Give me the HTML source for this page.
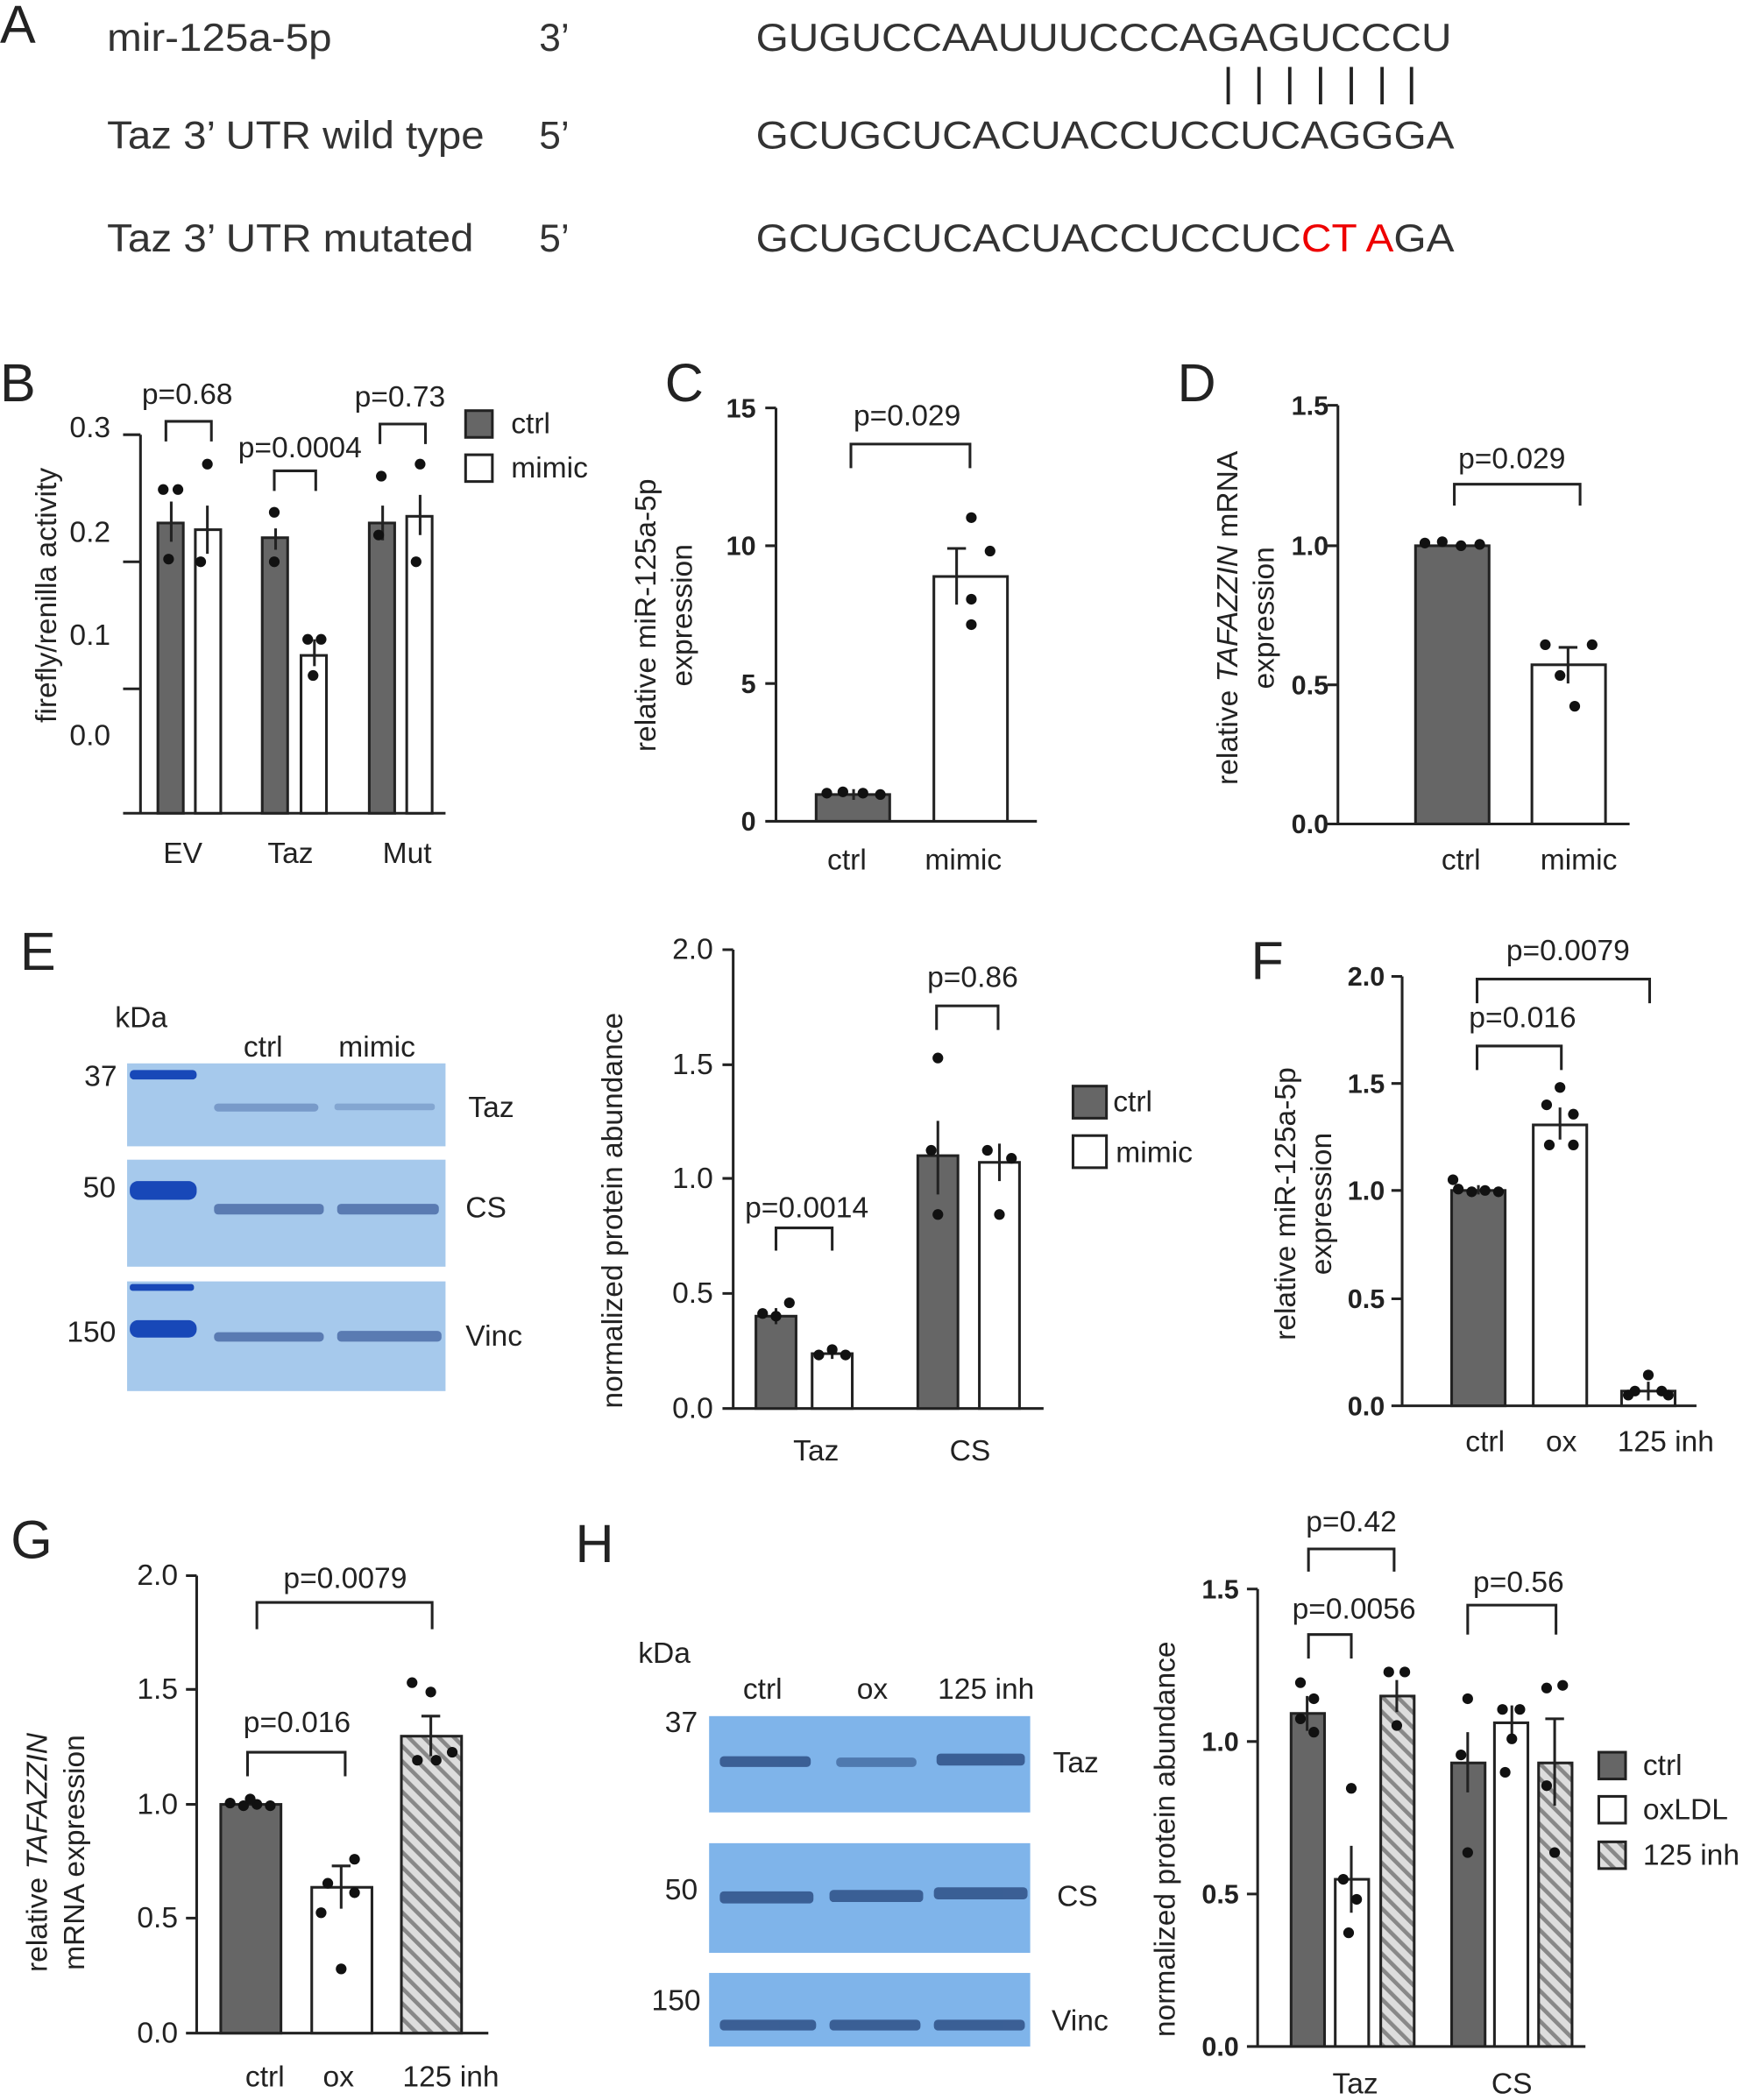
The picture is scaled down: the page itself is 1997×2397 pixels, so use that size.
<!DOCTYPE html>
<html><head><meta charset="utf-8"><style>
html,body{margin:0;padding:0;background:#fff}
svg{display:block}
text{font-family:"Liberation Sans",Arial,sans-serif;fill:#222}
.L{font-size:40px}
.t{font-size:22px}
.k{font-size:20px;font-weight:bold}
.s{font-size:29px;fill:#333}
</style></head><body>
<svg width="1997" height="2397" viewBox="0 0 1308 1570" xmlns="http://www.w3.org/2000/svg">
<defs>
<pattern id="h" width="8" height="8" patternUnits="userSpaceOnUse" patternTransform="rotate(-45)">
<rect width="8" height="8" fill="#ddd"/><rect width="3" height="8" fill="#888"/></pattern>
</defs>
<g stroke="#222" stroke-width="2.5" fill="none">
<path d="M918 50v28M941 50v28M964 50v28M987 50v28M1010 50v28M1033 50v28M1055 50v28"/>
</g>
<text class="L" x="0" y="32">A</text>
<text class="s" x="80" y="38" textLength="168" lengthAdjust="spacingAndGlyphs">mir-125a-5p</text><text class="s" x="403" y="38">3’</text>
<text class="s" x="565" y="38" textLength="520" lengthAdjust="spacingAndGlyphs">GUGUCCAAUUUCCCAGAGUCCCU</text>
<text class="s" x="80" y="111" textLength="282" lengthAdjust="spacingAndGlyphs">Taz 3’ UTR wild type</text><text class="s" x="403" y="111">5’</text>
<text class="s" x="565" y="111" textLength="522" lengthAdjust="spacingAndGlyphs">GCUGCUCACUACCUCCUCAGGGA</text>
<text class="s" x="80" y="188" textLength="274" lengthAdjust="spacingAndGlyphs">Taz 3’ UTR mutated</text><text class="s" x="403" y="188">5’</text>
<text class="s" x="565" y="188" textLength="522" lengthAdjust="spacingAndGlyphs">GCUGCUCACUACCUCCUC<tspan style="fill:#e00">CT A</tspan>GA</text>

<!-- B -->
<text class="L" x="0" y="300">B</text>
<g stroke="#222" stroke-width="2" fill="none">
<path d="M105 325V608H333M92 325h13M92 420h13M92 515h13M92 608h13"/>
<path d="M124 330v-15h34v15M205 367v-15h31v15M284 332v-15h34v15"/>
<rect x="118" y="391" width="19" height="217" fill="#666"/>
<rect x="146" y="396" width="19" height="212" fill="#fff"/>
<rect x="196" y="402" width="19" height="206" fill="#666"/>
<rect x="225" y="490" width="19" height="118" fill="#fff"/>
<rect x="276" y="391" width="19" height="217" fill="#666"/>
<rect x="304" y="386" width="19" height="222" fill="#fff"/>
<path d="M128 375v30M155 378v36M206 395v16M235 478v20M286 378v26M314 370v30"/>
<rect x="348" y="307" width="20" height="20" fill="#666"/><rect x="348" y="340" width="20" height="20" fill="#fff"/>
</g>
<g fill="#111"><circle cx="122" cy="366" r="4"/><circle cx="133" cy="366" r="4"/><circle cx="126" cy="418" r="4"/><circle cx="155" cy="347" r="4"/><circle cx="150" cy="420" r="4"/><circle cx="205" cy="383" r="4"/><circle cx="205" cy="420" r="4"/><circle cx="230" cy="478" r="4"/><circle cx="240" cy="478" r="4"/><circle cx="234" cy="505" r="4"/><circle cx="285" cy="356" r="4"/><circle cx="283" cy="400" r="4"/><circle cx="314" cy="347" r="4"/><circle cx="311" cy="420" r="4"/></g>
<text class="t" x="52" y="327">0.3</text><text class="t" x="52" y="405">0.2</text><text class="t" x="52" y="482">0.1</text><text class="t" x="52" y="557">0.0</text>
<text class="t" x="106" y="302">p=0.68</text><text class="t" x="178" y="342">p=0.0004</text><text class="t" x="265" y="304">p=0.73</text>
<text class="t" x="382" y="324">ctrl</text><text class="t" x="382" y="357">mimic</text>
<text class="t" x="122" y="645">EV</text><text class="t" x="200" y="645">Taz</text><text class="t" x="286" y="645">Mut</text>
<text class="t" transform="translate(42 445) rotate(-90)" text-anchor="middle">firefly/renilla activity</text>

<!-- C -->
<text class="L" x="497" y="300">C</text>
<g stroke="#222" stroke-width="2" fill="none">
<path d="M580 305V614H775M572 305h8M572 408h8M572 511h8M572 614h8"/>
<path d="M636 350v-18h89v18"/>
<rect x="610" y="594" width="55" height="20" fill="#666"/>
<rect x="698" y="431" width="55" height="183" fill="#fff"/>
<path d="M638 590v8M715 410v42M708 410h14"/>
</g>
<g fill="#111"><circle cx="618" cy="593" r="4"/><circle cx="630" cy="592" r="4"/><circle cx="645" cy="593" r="4"/><circle cx="658" cy="594" r="4"/><circle cx="726" cy="387" r="4"/><circle cx="740" cy="412" r="4"/><circle cx="726" cy="448" r="4"/><circle cx="726" cy="467" r="4"/></g>
<text class="k" x="565" y="312" text-anchor="end">15</text><text class="k" x="565" y="415" text-anchor="end">10</text><text class="k" x="565" y="518" text-anchor="end">5</text><text class="k" x="565" y="621" text-anchor="end">0</text>
<text class="t" x="678" y="318" text-anchor="middle">p=0.029</text>
<text class="t" x="633" y="650" text-anchor="middle">ctrl</text><text class="t" x="720" y="650" text-anchor="middle">mimic</text>
<text class="t" transform="translate(490 460) rotate(-90)" text-anchor="middle">relative miR-125a-5p</text>
<text class="t" transform="translate(517 460) rotate(-90)" text-anchor="middle">expression</text>

<!-- D -->
<text class="L" x="880" y="300">D</text>
<g stroke="#222" stroke-width="2" fill="none">
<path d="M1000 303V616H1218M992 303h8M992 408h8M992 512h8M992 616h8"/>
<path d="M1087 378v-16h94v16"/>
<rect x="1058" y="408" width="55" height="208" fill="#666"/>
<rect x="1145" y="497" width="55" height="119" fill="#fff"/>
<path d="M1172 484v27M1165 484h14"/>
</g>
<g fill="#111"><circle cx="1065" cy="406" r="4"/><circle cx="1078" cy="405" r="4"/><circle cx="1092" cy="408" r="4"/><circle cx="1106" cy="407" r="4"/><circle cx="1155" cy="482" r="4"/><circle cx="1190" cy="482" r="4"/><circle cx="1166" cy="505" r="4"/><circle cx="1177" cy="528" r="4"/></g>
<text class="k" x="993" y="310" text-anchor="end">1.5</text><text class="k" x="993" y="415" text-anchor="end">1.0</text><text class="k" x="993" y="519" text-anchor="end">0.5</text><text class="k" x="993" y="623" text-anchor="end">0.0</text>
<text class="t" x="1130" y="350" text-anchor="middle">p=0.029</text>
<text class="t" x="1092" y="650" text-anchor="middle">ctrl</text><text class="t" x="1180" y="650" text-anchor="middle">mimic</text>
<text class="t" transform="translate(925 462) rotate(-90)" text-anchor="middle">relative <tspan font-style="italic">TAFAZZIN</tspan> mRNA</text>
<text class="t" transform="translate(952 462) rotate(-90)" text-anchor="middle">expression</text>

<!-- E -->
<text class="L" x="15" y="725">E</text>
<text class="t" x="86" y="768">kDa</text><text class="t" x="182" y="790">ctrl</text><text class="t" x="253" y="790">mimic</text>
<rect x="95" y="795" width="238" height="62" fill="#a6c9ec"/>
<rect x="95" y="867" width="238" height="80" fill="#a6c9ec"/>
<rect x="95" y="958" width="238" height="82" fill="#a6c9ec"/>
<g fill="#1848b8"><rect x="97" y="800" width="50" height="7" rx="3"/><rect x="97" y="883" width="50" height="14" rx="6"/><rect x="97" y="960" width="48" height="5" rx="2"/><rect x="97" y="987" width="50" height="13" rx="6"/></g>
<g fill="#3a5a9a" opacity="0.7"><rect x="160" y="825" width="78" height="6" rx="3" opacity="0.6"/><rect x="250" y="825" width="75" height="5" rx="2" opacity="0.45"/><rect x="160" y="900" width="82" height="8" rx="3"/><rect x="252" y="900" width="76" height="8" rx="3"/><rect x="160" y="996" width="82" height="7" rx="3"/><rect x="252" y="995" width="78" height="8" rx="3"/></g>
<text class="t" x="63" y="812">37</text><text class="t" x="62" y="895">50</text><text class="t" x="50" y="1003">150</text>
<text class="t" x="350" y="835">Taz</text><text class="t" x="348" y="910">CS</text><text class="t" x="348" y="1006">Vinc</text>
<g stroke="#222" stroke-width="2" fill="none">
<path d="M548 710V1053H780M540 710h8M540 796h8M540 881h8M540 967h8M540 1053h8"/>
<path d="M580 935v-17h42v17M700 770v-18h46v18"/>
<rect x="565" y="984" width="30" height="69" fill="#666"/>
<rect x="607" y="1012" width="30" height="41" fill="#fff"/>
<rect x="686" y="864" width="30" height="189" fill="#666"/>
<rect x="732" y="869" width="30" height="184" fill="#fff"/>
<path d="M580 978v12M622 1008v8M701 838v55M747 855v28"/>
<rect x="802" y="812" width="25" height="24" fill="#666"/><rect x="802" y="849" width="25" height="24" fill="#fff"/>
</g>
<g fill="#111"><circle cx="570" cy="982" r="4"/><circle cx="580" cy="984" r="4"/><circle cx="590" cy="974" r="4"/><circle cx="612" cy="1013" r="4"/><circle cx="622" cy="1009" r="4"/><circle cx="632" cy="1013" r="4"/><circle cx="701" cy="791" r="4"/><circle cx="696" cy="860" r="4"/><circle cx="701" cy="908" r="4"/><circle cx="738" cy="860" r="4"/><circle cx="756" cy="866" r="4"/><circle cx="747" cy="908" r="4"/></g>
<text class="t" x="533" y="717" text-anchor="end">2.0</text><text class="t" x="533" y="803" text-anchor="end">1.5</text><text class="t" x="533" y="888" text-anchor="end">1.0</text><text class="t" x="533" y="974" text-anchor="end">0.5</text><text class="t" x="533" y="1060" text-anchor="end">0.0</text>
<text class="t" x="603" y="910" text-anchor="middle">p=0.0014</text><text class="t" x="727" y="738" text-anchor="middle">p=0.86</text>
<text class="t" x="832" y="831">ctrl</text><text class="t" x="834" y="869">mimic</text>
<text class="t" x="610" y="1092" text-anchor="middle">Taz</text><text class="t" x="725" y="1092" text-anchor="middle">CS</text>
<text class="t" transform="translate(465 905) rotate(-90)" text-anchor="middle">normalized protein abundance</text>

<!-- F -->
<text class="L" x="935" y="732">F</text>
<g stroke="#222" stroke-width="2" fill="none">
<path d="M1048 730V1051H1268M1040 730h8M1040 810h8M1040 890h8M1040 971h8M1040 1051h8"/>
<path d="M1104 750v-18h129v18M1104 800v-18h63v18"/>
<rect x="1085" y="890" width="40" height="161" fill="#666"/>
<rect x="1146" y="841" width="40" height="210" fill="#fff"/>
<rect x="1212" y="1040" width="40" height="11" fill="#fff"/>
<path d="M1105 886v7M1166 828v24M1232 1033v14"/>
</g>
<g fill="#111"><circle cx="1090" cy="889" r="4"/><circle cx="1100" cy="891" r="4"/><circle cx="1110" cy="890" r="4"/><circle cx="1120" cy="891" r="4"/><circle cx="1086" cy="882" r="4"/><circle cx="1166" cy="813" r="4"/><circle cx="1156" cy="826" r="4"/><circle cx="1176" cy="833" r="4"/><circle cx="1158" cy="856" r="4"/><circle cx="1176" cy="856" r="4"/><circle cx="1232" cy="1028" r="4"/><circle cx="1222" cy="1040" r="4"/><circle cx="1242" cy="1040" r="4"/><circle cx="1217" cy="1043" r="4"/><circle cx="1247" cy="1043" r="4"/></g>
<text class="k" x="1035" y="737" text-anchor="end">2.0</text><text class="k" x="1035" y="817" text-anchor="end">1.5</text><text class="k" x="1035" y="897" text-anchor="end">1.0</text><text class="k" x="1035" y="978" text-anchor="end">0.5</text><text class="k" x="1035" y="1058" text-anchor="end">0.0</text>
<text class="t" x="1172" y="718" text-anchor="middle">p=0.0079</text><text class="t" x="1138" y="768" text-anchor="middle">p=0.016</text>
<text class="t" x="1110" y="1085" text-anchor="middle">ctrl</text><text class="t" x="1167" y="1085" text-anchor="middle">ox</text><text class="t" x="1245" y="1085" text-anchor="middle">125 inh</text>
<text class="t" transform="translate(968 900) rotate(-90)" text-anchor="middle">relative miR-125a-5p</text>
<text class="t" transform="translate(995 900) rotate(-90)" text-anchor="middle">expression</text>

<!-- G -->
<text class="L" x="8" y="1165">G</text>
<g stroke="#222" stroke-width="2" fill="none">
<path d="M147 1178V1520H365M139 1178h8M139 1263h8M139 1349h8M139 1434h8M139 1520h8"/>
<path d="M192 1218v-20h131v20M185 1328v-18h73v18"/>
<rect x="165" y="1349" width="45" height="171" fill="#666"/>
<rect x="233" y="1411" width="45" height="109" fill="#fff"/>
<rect x="300" y="1298" width="45" height="222" fill="url(#h)"/>
<path d="M255 1395v32M248 1395h14M322 1283v30M315 1283h14"/>
</g>
<g fill="#111"><circle cx="172" cy="1348" r="4"/><circle cx="182" cy="1350" r="4"/><circle cx="192" cy="1349" r="4"/><circle cx="202" cy="1350" r="4"/><circle cx="187" cy="1345" r="4"/><circle cx="265" cy="1390" r="4"/><circle cx="245" cy="1408" r="4"/><circle cx="265" cy="1415" r="4"/><circle cx="240" cy="1430" r="4"/><circle cx="255" cy="1472" r="4"/><circle cx="308" cy="1258" r="4"/><circle cx="322" cy="1265" r="4"/><circle cx="338" cy="1310" r="4"/><circle cx="312" cy="1316" r="4"/><circle cx="326" cy="1316" r="4"/></g>
<text class="t" x="133" y="1185" text-anchor="end">2.0</text><text class="t" x="133" y="1270" text-anchor="end">1.5</text><text class="t" x="133" y="1356" text-anchor="end">1.0</text><text class="t" x="133" y="1441" text-anchor="end">0.5</text><text class="t" x="133" y="1527" text-anchor="end">0.0</text>
<text class="t" x="258" y="1187" text-anchor="middle">p=0.0079</text><text class="t" x="222" y="1295" text-anchor="middle">p=0.016</text>
<text class="t" x="198" y="1560" text-anchor="middle">ctrl</text><text class="t" x="253" y="1560" text-anchor="middle">ox</text><text class="t" x="337" y="1560" text-anchor="middle">125 inh</text>
<text class="t" transform="translate(35 1385) rotate(-90)" text-anchor="middle">relative <tspan font-style="italic">TAFAZZIN</tspan></text>
<text class="t" transform="translate(63 1385) rotate(-90)" text-anchor="middle">mRNA expression</text>

<!-- H -->
<text class="L" x="430" y="1168">H</text>
<text class="t" x="477" y="1243">kDa</text><text class="t" x="570" y="1270" text-anchor="middle">ctrl</text><text class="t" x="652" y="1270" text-anchor="middle">ox</text><text class="t" x="737" y="1270" text-anchor="middle">125 inh</text>
<rect x="530" y="1283" width="240" height="72" fill="#7fb4ea"/>
<rect x="530" y="1378" width="240" height="82" fill="#7fb4ea"/>
<rect x="530" y="1475" width="240" height="55" fill="#7fb4ea"/>
<g fill="#2a4a80" opacity="0.8"><rect x="538" y="1313" width="68" height="8" rx="3"/><rect x="625" y="1314" width="60" height="7" rx="3" opacity="0.7"/><rect x="700" y="1311" width="66" height="9" rx="3"/><rect x="538" y="1414" width="70" height="9" rx="3"/><rect x="620" y="1413" width="70" height="9" rx="3"/><rect x="698" y="1411" width="70" height="9" rx="3"/><rect x="538" y="1510" width="72" height="8" rx="3"/><rect x="620" y="1510" width="68" height="8" rx="3"/><rect x="698" y="1510" width="68" height="8" rx="3"/></g>
<text class="t" x="497" y="1295">37</text><text class="t" x="497" y="1420">50</text><text class="t" x="487" y="1503">150</text>
<text class="t" x="787" y="1325">Taz</text><text class="t" x="790" y="1425">CS</text><text class="t" x="786" y="1518">Vinc</text>
<g stroke="#222" stroke-width="2" fill="none">
<path d="M940 1188V1530H1185M932 1188h8M932 1302h8M932 1416h8M932 1530h8"/>
<path d="M978 1175v-17h64v17M978 1240v-18h32v18M1097 1222v-22h66v22"/>
<rect x="965" y="1281" width="25" height="249" fill="#666"/>
<rect x="998" y="1405" width="25" height="125" fill="#fff"/>
<rect x="1032" y="1268" width="25" height="262" fill="url(#h)"/>
<rect x="1085" y="1318" width="25" height="212" fill="#666"/>
<rect x="1117" y="1288" width="25" height="242" fill="#fff"/>
<rect x="1150" y="1318" width="25" height="212" fill="url(#h)"/>
<path d="M977 1268v26M1010 1380v50M1044 1256v24M1097 1295v45M1130 1275v26M1162 1285v65M1155 1285h14"/>
</g>
<g fill="#111"><circle cx="972" cy="1258" r="4"/><circle cx="982" cy="1270" r="4"/><circle cx="972" cy="1285" r="4"/><circle cx="982" cy="1295" r="4"/><circle cx="1010" cy="1337" r="4"/><circle cx="1004" cy="1405" r="4"/><circle cx="1014" cy="1420" r="4"/><circle cx="1008" cy="1445" r="4"/><circle cx="1038" cy="1250" r="4"/><circle cx="1050" cy="1250" r="4"/><circle cx="1044" cy="1290" r="4"/><circle cx="1097" cy="1270" r="4"/><circle cx="1092" cy="1312" r="4"/><circle cx="1097" cy="1385" r="4"/><circle cx="1123" cy="1278" r="4"/><circle cx="1136" cy="1278" r="4"/><circle cx="1130" cy="1300" r="4"/><circle cx="1125" cy="1325" r="4"/><circle cx="1156" cy="1262" r="4"/><circle cx="1168" cy="1260" r="4"/><circle cx="1156" cy="1335" r="4"/><circle cx="1162" cy="1385" r="4"/></g>
<text class="k" x="926" y="1195" text-anchor="end">1.5</text><text class="k" x="926" y="1309" text-anchor="end">1.0</text><text class="k" x="926" y="1423" text-anchor="end">0.5</text><text class="k" x="926" y="1537" text-anchor="end">0.0</text>
<text class="t" x="1010" y="1145" text-anchor="middle">p=0.42</text><text class="t" x="1012" y="1210" text-anchor="middle">p=0.0056</text><text class="t" x="1135" y="1190" text-anchor="middle">p=0.56</text>
<g stroke="#222" stroke-width="2"><rect x="1195" y="1310" width="20" height="20" fill="#666"/><rect x="1195" y="1343" width="20" height="20" fill="#fff"/><rect x="1195" y="1377" width="20" height="20" fill="url(#h)"/></g>
<text class="t" x="1228" y="1327">ctrl</text><text class="t" x="1228" y="1360">oxLDL</text><text class="t" x="1228" y="1394">125 inh</text>
<text class="t" x="1013" y="1565" text-anchor="middle">Taz</text><text class="t" x="1130" y="1565" text-anchor="middle">CS</text>
<text class="t" transform="translate(878 1375) rotate(-90)" text-anchor="middle">normalized protein abundance</text>
</svg>
</body></html>
